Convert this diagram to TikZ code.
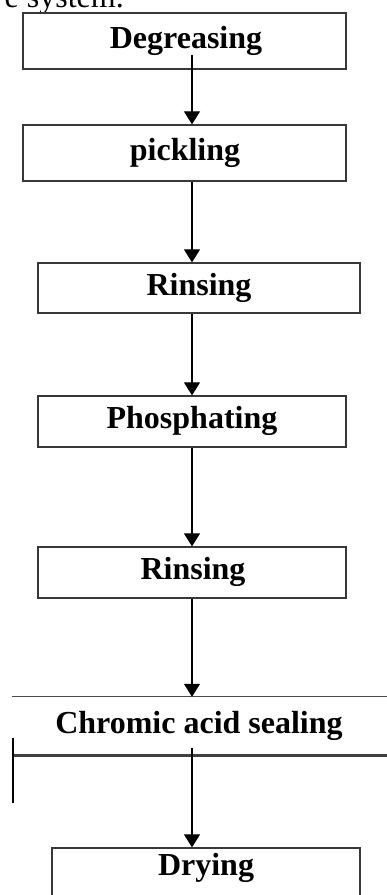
\documentclass[tikz,border=0pt]{standalone}
\usepackage{fontspec}
\setmainfont{Liberation Serif}
\usetikzlibrary{arrows.meta}
\begin{document}
\begin{tikzpicture}[x=1pt,y=-1pt,
  stepbox/.style={draw=black!78, line width=1.3pt, rectangle, inner sep=0pt},
  label/.style={font=\fontsize{32}{36}\selectfont\bfseries, text height=22pt, text depth=8pt, inner sep=0pt},
  flow/.style={draw=black, line width=1.2pt, -{Triangle[length=13pt,width=16pt]}}]
  \useasboundingbox (0,0) rectangle (387,895);
  \clip (0,0) rectangle (387,895);

  % caption line running into the top edge
  \node[font=\fontsize{32}{36}\selectfont, anchor=base east, inner sep=0pt] (cap) at (124,7) {e system.};

  % process steps
  \node[stepbox, minimum width=323pt, minimum height=56pt] (deg) at (184.5,41) {};
  \node[label] (degt) at (186,41) {Degreasing};
  \node[stepbox, minimum width=323pt, minimum height=56pt] (pic) at (184.5,153) {};
  \node[label] (pict) at (185,153) {pickling};
  \node[stepbox, minimum width=322pt, minimum height=50pt] (rin) at (199,288) {};
  \node[label] (rint) at (199,288) {Rinsing};
  \node[stepbox, minimum width=308pt, minimum height=51pt] (pho) at (192,421.5) {};
  \node[label] (phot) at (192,421.5) {Phosphating};
  \node[stepbox, minimum width=308pt, minimum height=51pt] (rin2) at (192,572.5) {};
  \node[label] (rin2t) at (193,572.5) {Rinsing};

  % sealing band running off the right edge
  \node[inner sep=0pt, minimum width=388pt, minimum height=58pt] (chr) at (206,726) {};
  \draw[black!70, line width=1.3pt] (chr.north west) -- (chr.north east);
  \draw[black!75, line width=3pt] (chr.south west) -- (chr.south east);
  \node[label] (chrt) at (199,726) {Chromic acid sealing};
  \coordinate (marka) at (13,738);
  \coordinate (markb) at (13,803);
  \draw[black, line width=1.2pt] (marka) -- (markb);

  \node[stepbox, minimum width=308pt, minimum height=52pt] (dry) at (206,874) {};
  \node[label] (dryt) at (206,868) {Drying};

  % connectors
  \coordinate (d0) at (192,55);
  \coordinate (c0) at (192,748);
  \draw[flow] (d0) -- (deg.south -| d0) -- (pic.north -| d0);
  \draw[flow] (pic.south -| d0) -- (rin.north -| d0);
  \draw[flow] (rin.south -| d0) -- (pho.north -| d0);
  \draw[flow] (pho.south -| d0) -- (rin2.north -| d0);
  \draw[flow] (rin2.south -| d0) -- (chr.north -| d0);
  \draw[flow] (c0) -- (dry.north -| c0);
\end{tikzpicture}
\end{document}
